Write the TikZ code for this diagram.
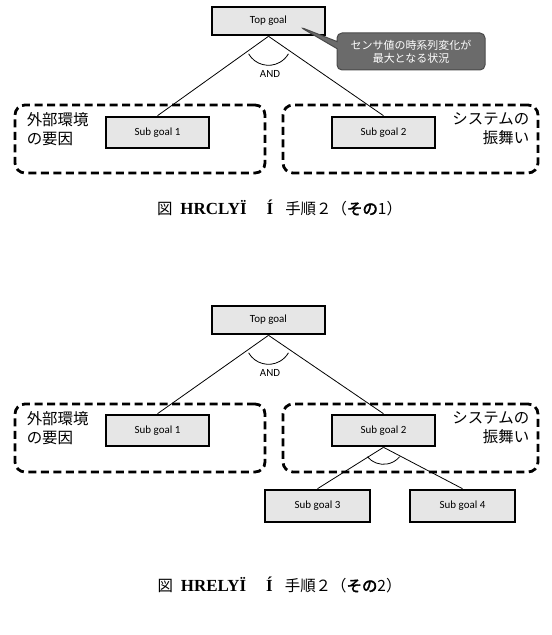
\documentclass[tikz,border=0pt]{standalone}
\usepackage{fontspec}
\setmainfont{Carlito}
\newfontfamily\jp{Noto Sans CJK JP}
\newfontfamily\jpb[FakeBold=2.5]{Noto Sans CJK JP}
\newfontfamily\garb{Liberation Serif}
\usetikzlibrary{positioning,calc,shapes.callouts}
\definecolor{goalfill}{HTML}{E6E6E6}
\definecolor{notefill}{HTML}{6B6B6B}
\definecolor{noteline}{HTML}{4A4A4A}

\begin{document}
\begin{tikzpicture}[x=1bp, y=1bp, font=\fontsize{11}{13}\selectfont,
  goal/.style={draw, line width=2.6bp, fill=goalfill, minimum width=103bp, minimum height=31bp, inner sep=0pt},
  grp/.style={draw, line width=2.8bp, dash pattern=on 8bp off 4.5bp, rounded corners=10bp, minimum width=250bp, minimum height=68bp},
  lab/.style={font=\jp\fontsize{15.5}{19}\selectfont, inner sep=0pt},
  link/.style={line width=0.8bp},
  note/.style={rectangle callout, fill=notefill, draw=noteline, line width=1bp, rounded corners=5bp, text=white, align=center,
               font=\jp\fontsize{11}{13}\selectfont, minimum width=148bp, minimum height=37bp, inner sep=0pt},
  figcap/.style={font=\jp\fontsize{15.5}{18}\selectfont, inner sep=0pt}]

\useasboundingbox (0,0) rectangle (552,-635);

% ---------------- step 2 (part 1)
\node[grp, minimum width=250bp] (envA) at (140,-139) {};
\node[grp, minimum width=255bp] (sysA) at (410.5,-139) {};
\node[goal, minimum width=113bp, minimum height=28bp] (top1) at (268.5,-21) {Top goal};
\node[goal] (sg1a) at (157.5,-132.5) {Sub goal 1};
\node[goal] (sg2a) at (383.5,-132.5) {Sub goal 2};
\node[lab, anchor=north west, align=left] (envlabA) at ($(envA.north west)+(13,-9)$) {外部環境\\の要因};
\node[lab, anchor=north east, align=right] (syslabA) at ($(sysA.north east)+(-10,-9)$) {システムの\\振舞い};
\draw[link] (top1.south) -- (sg1a.north);
\draw[link] (top1.south) -- (sg2a.north);
\draw[link] ($(top1.south)+(0,-6)$) ++(-150:23bp) arc[start angle=-150, end angle=-30, radius=23bp];
\node (and1) at (270,-74) {AND};
\node[note, callout absolute pointer={(300,-27)}] (memo1) at (411,-51.5) {センサ値の時系列変化が\\最大となる状況};
\node[figcap] (cap1) at (279.5,-208) {図\hspace{8bp}{\garb\bfseries\fontsize{17}{17}\selectfont HRCLYÏ}\hspace{20bp}{\garb\bfseries\fontsize{17}{17}\selectfont Í}\hspace{12bp}手順２（{\jpb その}1）};

% ---------------- step 2 (part 2)
\node[grp, minimum width=250bp] (envB) at (140,-438) {};
\node[grp, minimum width=255bp] (sysB) at (410.5,-438) {};
\node[goal, minimum width=113bp, minimum height=28bp] (top2) at (268.5,-320) {Top goal};
\node[goal] (sg1b) at (157.5,-430.5) {Sub goal 1};
\node[goal] (sg2b) at (383.5,-430.5) {Sub goal 2};
\node[goal, minimum width=105bp, minimum height=32bp] (sg3) at (317.5,-506) {Sub goal 3};
\node[goal, minimum width=105bp, minimum height=32bp] (sg4) at (462.5,-506) {Sub goal 4};
\node[lab, anchor=north west, align=left] (envlabB) at ($(envB.north west)+(13,-9)$) {外部環境\\の要因};
\node[lab, anchor=north east, align=right] (syslabB) at ($(sysB.north east)+(-10,-9)$) {システムの\\振舞い};
\draw[link] (top2.south) -- (sg1b.north);
\draw[link] (top2.south) -- (sg2b.north);
\draw[link] ($(top2.south)+(0,-6)$) ++(-150:23bp) arc[start angle=-150, end angle=-30, radius=23bp];
\node (and2) at (270,-373) {AND};
\draw[link] (sg2b.south) -- (sg3.north);
\draw[link] (sg2b.south) -- (sg4.north);
\draw[link] ($(sg2b.south)+(0,4)$) ++(-140:21bp) arc[start angle=-140, end angle=-40, radius=21bp];
\node[figcap] (cap2) at (279.5,-585) {図\hspace{8bp}{\garb\bfseries\fontsize{17}{17}\selectfont HRELYÏ}\hspace{20bp}{\garb\bfseries\fontsize{17}{17}\selectfont Í}\hspace{12bp}手順２（{\jpb その}2）};
\end{tikzpicture}
\end{document}
